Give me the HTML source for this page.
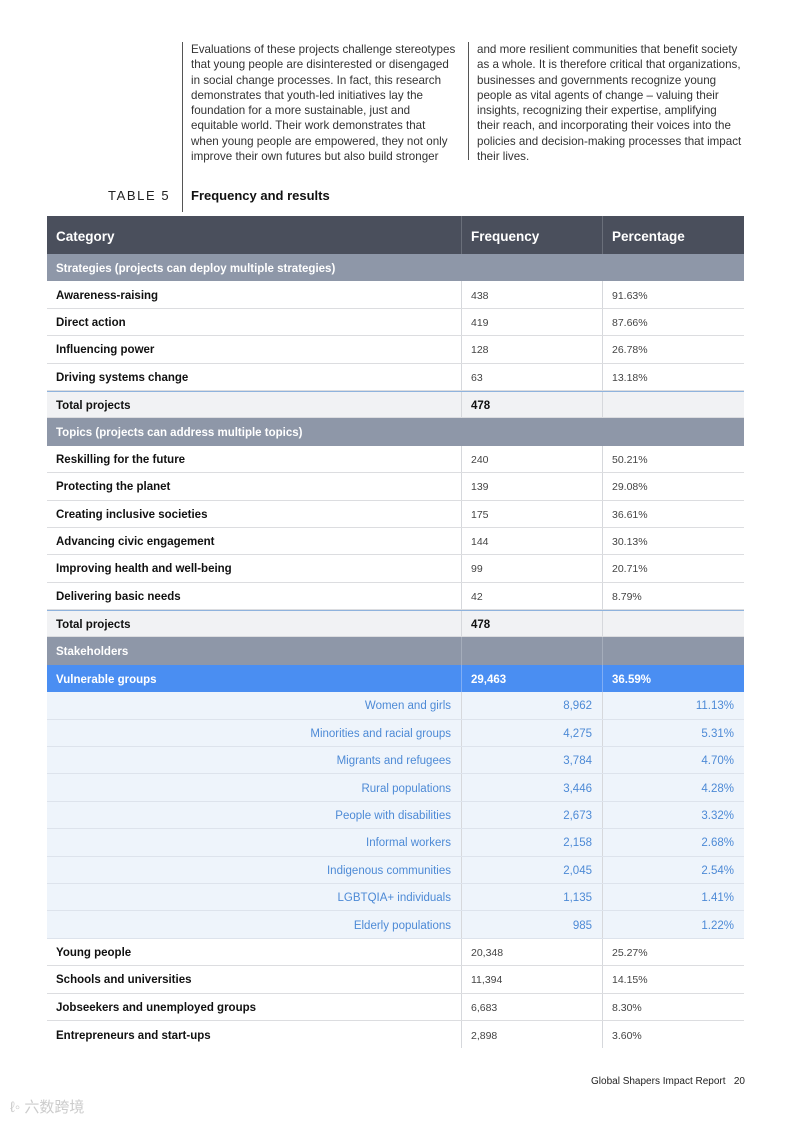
<!DOCTYPE html>
<html><head><meta charset="utf-8"><style>
*{margin:0;padding:0;box-sizing:border-box}
body{width:793px;height:1121px;background:#fff;font-family:"Liberation Sans",sans-serif;position:relative;overflow:hidden;color:#111}
.col{position:absolute;top:42px;font-size:11.6px;line-height:15.3px;color:#333;letter-spacing:0;white-space:nowrap}
.vl{position:absolute;background:#555;width:1px}
#tbl{position:absolute;left:47px;top:216px;width:697px}
.r{display:flex;height:27.4px;align-items:center;border-bottom:1px solid #dcdde0}
.r>div{height:100%;display:flex;align-items:center;padding-left:9px;padding-top:2px}
.c1{width:414px}.c2{width:141px;border-left:1px solid #d6d8dc}.c3{width:142px;border-left:1px solid #d6d8dc}
.hd{height:38px;background:#4a4f5c;color:#fff;font-weight:bold;font-size:13.5px;border:none}
.hd>div{border-color:#6a6f7a}
.sec{background:#8e97a8;color:#fff;font-weight:bold;font-size:11.5px;border-bottom:none}
.sec>div{border-color:#a5adbb}
.n .c1{font-weight:bold;font-size:11.5px}
.n .c2,.n .c3{font-size:10.5px;color:#444}
.t{background:#f1f2f4;border-top:1px solid #8fb3dd;font-weight:bold;font-size:11.5px}
.hl{background:#4a8ef2;color:#fff;font-weight:bold;font-size:11.5px;border-bottom:none}
.hl>div{border-color:#80aef5}
.s{background:#eef4fb;color:#4d8ad6;font-size:11.5px;border-bottom:1px solid #dde3ec}
.s>div{justify-content:flex-end;padding-right:10px;padding-left:0}
</style></head><body>
<div class="vl" style="left:182px;top:42px;height:170px"></div>
<div class="vl" style="left:468px;top:42px;height:118px"></div>
<div class="col" style="left:191px">Evaluations of these projects challenge stereotypes<br>that young people are disinterested or disengaged<br>in social change processes. In fact, this research<br>demonstrates that youth-led initiatives lay the<br>foundation for a more sustainable, just and<br>equitable world. Their work demonstrates that<br>when young people are empowered, they not only<br>improve their own futures but also build stronger</div>
<div class="col" style="left:477px">and more resilient communities that benefit society<br>as a whole. It is therefore critical that organizations,<br>businesses and governments recognize young<br>people as vital agents of change – valuing their<br>insights, recognizing their expertise, amplifying<br>their reach, and incorporating their voices into the<br>policies and decision-making processes that impact<br>their lives.</div>
<div style="position:absolute;left:108px;top:188px;font-size:13px;letter-spacing:1.6px;color:#222">TABLE 5</div>
<div style="position:absolute;left:191px;top:188px;font-size:13px;font-weight:bold">Frequency and results</div>
<div id="tbl">
<div class="r hd"><div class="c1">Category</div><div class="c2">Frequency</div><div class="c3">Percentage</div></div>
<div class="r sec"><div style="width:697px">Strategies (projects can deploy multiple strategies)</div></div>
<div class="r n"><div class="c1">Awareness-raising</div><div class="c2">438</div><div class="c3">91.63%</div></div>
<div class="r n"><div class="c1">Direct action</div><div class="c2">419</div><div class="c3">87.66%</div></div>
<div class="r n"><div class="c1">Influencing power</div><div class="c2">128</div><div class="c3">26.78%</div></div>
<div class="r n"><div class="c1">Driving systems change</div><div class="c2">63</div><div class="c3">13.18%</div></div>
<div class="r t"><div class="c1">Total projects</div><div class="c2">478</div><div class="c3"></div></div>
<div class="r sec"><div style="width:697px">Topics (projects can address multiple topics)</div></div>
<div class="r n"><div class="c1">Reskilling for the future</div><div class="c2">240</div><div class="c3">50.21%</div></div>
<div class="r n"><div class="c1">Protecting the planet</div><div class="c2">139</div><div class="c3">29.08%</div></div>
<div class="r n"><div class="c1">Creating inclusive societies</div><div class="c2">175</div><div class="c3">36.61%</div></div>
<div class="r n"><div class="c1">Advancing civic engagement</div><div class="c2">144</div><div class="c3">30.13%</div></div>
<div class="r n"><div class="c1">Improving health and well-being</div><div class="c2">99</div><div class="c3">20.71%</div></div>
<div class="r n"><div class="c1">Delivering basic needs</div><div class="c2">42</div><div class="c3">8.79%</div></div>
<div class="r t"><div class="c1">Total projects</div><div class="c2">478</div><div class="c3"></div></div>
<div class="r sec"><div class="c1">Stakeholders</div><div class="c2"></div><div class="c3"></div></div>
<div class="r hl"><div class="c1">Vulnerable groups</div><div class="c2">29,463</div><div class="c3">36.59%</div></div>
<div class="r s"><div class="c1">Women and girls</div><div class="c2">8,962</div><div class="c3">11.13%</div></div>
<div class="r s"><div class="c1">Minorities and racial groups</div><div class="c2">4,275</div><div class="c3">5.31%</div></div>
<div class="r s"><div class="c1">Migrants and refugees</div><div class="c2">3,784</div><div class="c3">4.70%</div></div>
<div class="r s"><div class="c1">Rural populations</div><div class="c2">3,446</div><div class="c3">4.28%</div></div>
<div class="r s"><div class="c1">People with disabilities</div><div class="c2">2,673</div><div class="c3">3.32%</div></div>
<div class="r s"><div class="c1">Informal workers</div><div class="c2">2,158</div><div class="c3">2.68%</div></div>
<div class="r s"><div class="c1">Indigenous communities</div><div class="c2">2,045</div><div class="c3">2.54%</div></div>
<div class="r s"><div class="c1">LGBTQIA+ individuals</div><div class="c2">1,135</div><div class="c3">1.41%</div></div>
<div class="r s"><div class="c1">Elderly populations</div><div class="c2">985</div><div class="c3">1.22%</div></div>
<div class="r n"><div class="c1">Young people</div><div class="c2">20,348</div><div class="c3">25.27%</div></div>
<div class="r n"><div class="c1">Schools and universities</div><div class="c2">11,394</div><div class="c3">14.15%</div></div>
<div class="r n"><div class="c1">Jobseekers and unemployed groups</div><div class="c2">6,683</div><div class="c3">8.30%</div></div>
<div class="r n" style="border-bottom:none"><div class="c1">Entrepreneurs and start-ups</div><div class="c2">2,898</div><div class="c3">3.60%</div></div>
</div>
<div style="position:absolute;right:48px;top:1076px;font-size:10px;color:#222">Global Shapers Impact Report&nbsp;&nbsp;&nbsp;20</div>
<div style="position:absolute;left:10px;top:1096px;font-size:15px;color:#ccc;font-family:'Liberation Sans','Noto Sans CJK SC',sans-serif">ℓ◦ 六数跨境</div>
</body></html>
